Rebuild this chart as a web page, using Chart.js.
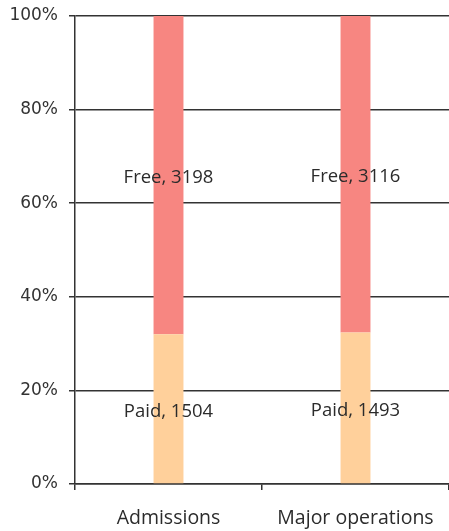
<!DOCTYPE html>
<html>
<head>
<meta charset="utf-8">
<script src="https://cdn.jsdelivr.net/npm/chart.js@4"></script>
<style>
    html, body { margin: 0; padding: 0; background: #fff; }
    #wrap { width: 449px; height: 531px; }
</style>
</head>
<body>
<div id="wrap"><canvas id="chart"></canvas></div>
<script>
    // Chart data
    var categories = ['Admissions', 'Major operations'];
    var paidCounts = [1504, 1493];
    var freeCounts = [3198, 3116];
    var yTicks = [0, 20, 40, 60, 80, 100];

    // Share of each group in percent (100% stacked bars)
    var totals = categories.map(function (c, i) { return paidCounts[i] + freeCounts[i]; });
    var paidShare = paidCounts.map(function (v, i) { return v / totals[i] * 100; });
    var freeShare = freeCounts.map(function (v, i) { return v / totals[i] * 100; });

    // Writes "Label, count" in the middle of each stacked segment
    var segmentLabels = {
        id: 'segmentLabels',
        afterDatasetsDraw: function (chart) {
            var ctx = chart.ctx;
            ctx.save();
            ctx.font = '18.5px "Open Sans", sans-serif';
            ctx.fillStyle = '#2b2b2b';
            ctx.textAlign = 'center';
            ctx.textBaseline = 'middle';
            chart.data.datasets.forEach(function (ds, di) {
                chart.getDatasetMeta(di).data.forEach(function (bar, i) {
                    var mid = (bar.y + bar.base) / 2;
                    ctx.fillText(ds.label + ', ' + ds.counts[i], bar.x, mid + 3);
                });
            });
            ctx.restore();
        }
    };

    new Chart(document.getElementById('chart'), {
        type: 'bar',
        data: {
            labels: categories,
            datasets: [{
                label: 'Paid',
                data: paidShare,
                counts: paidCounts,
                backgroundColor: '#FFD09B',
                barPercentage: 0.16,
                categoryPercentage: 1.0
            }, {
                label: 'Free',
                data: freeShare,
                counts: freeCounts,
                backgroundColor: '#F78681',
                barPercentage: 0.16,
                categoryPercentage: 1.0
            }]
        },
        options: {
            responsive: true,
            maintainAspectRatio: false,
            animation: false,
            layout: { padding: { top: 16, right: 0, left: 0, bottom: 0 } },
            plugins: {
                legend: { display: false },
                tooltip: { enabled: false }
            },
            scales: {
                x: {
                    stacked: true,
                    afterFit: function (scale) {
                        scale.height = 47;
                        scale.paddingLeft = 0;
                        scale.paddingRight = 0;
                    },
                    grid: {
                        offset: true,
                        drawOnChartArea: false,
                        color: '#333333',
                        lineWidth: 1.5,
                        tickLength: 6
                    },
                    border: { display: true, color: '#333333', width: 1.5 },
                    ticks: {
                        color: '#2b2b2b',
                        padding: 17,
                        font: { family: '"Open Sans", sans-serif', size: 19.5 }
                    }
                },
                y: {
                    stacked: true,
                    min: 0,
                    max: 100,
                    afterFit: function (scale) {
                        scale.width = 75;
                        // let the top label hang over the padding instead of pushing the chart down
                        scale.paddingTop = 0;
                        scale.paddingBottom = 0;
                    },
                    afterBuildTicks: function (scale) {
                        scale.ticks = yTicks.map(function (v) { return { value: v }; });
                    },
                    grid: {
                        color: '#333333',
                        lineWidth: 1.5,
                        tickLength: 6
                    },
                    border: { display: true, color: '#333333', width: 1.5 },
                    ticks: {
                        color: '#333333',
                        padding: 11,
                        font: { family: '"DejaVu Sans", sans-serif', size: 17 },
                        callback: function (v) { return v + '%'; }
                    }
                }
            }
        },
        plugins: [segmentLabels]
    });
</script>
</body>
</html>
